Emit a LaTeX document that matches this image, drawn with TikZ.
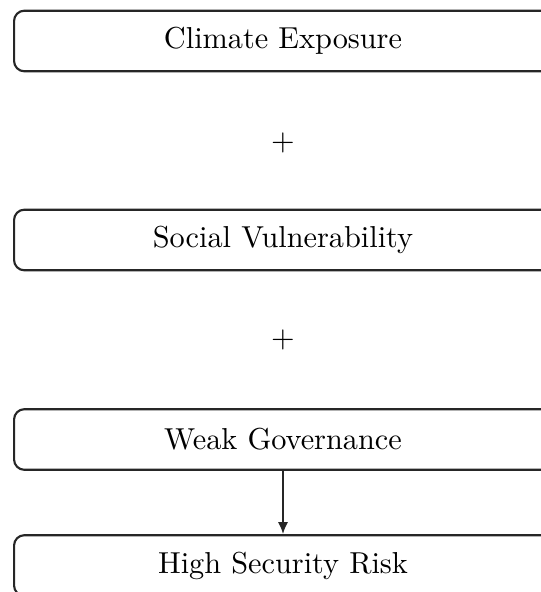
\documentclass[tikz,border=0pt]{standalone}
\usetikzlibrary{arrows.meta}
\begin{document}
\begin{tikzpicture}[x=0.33pt,y=-0.33pt,
  factor/.style={draw=black!85,line width=0.7pt,rounded corners=3.4pt,
    minimum width=177.5pt,minimum height=20pt,inner sep=0pt,font=\fontsize{10}{12}\selectfont},
  plus/.style={font=\fontsize{10}{12}\selectfont,inner sep=0pt},
  link/.style={draw=black!85,line width=0.7pt,-{Latex[length=4pt,width=3.4pt]}}]
  \useasboundingbox (0,0) rectangle (541,592);
  \clip (0,0) rectangle (541,592);
  \node[factor] (exp) at (283,41) {Climate Exposure};
  \node[plus] (p1) at (283,143) {$+$};
  \node[factor] (soc) at (283,240) {Social Vulnerability};
  \node[plus] (p2) at (283,340) {$+$};
  \node[factor] (gov) at (283,439.5) {Weak Governance};
  \node[factor] (risk) at (283,565.5) {High Security Risk};
  \draw[link] (gov) -- (risk);
\end{tikzpicture}
\end{document}
